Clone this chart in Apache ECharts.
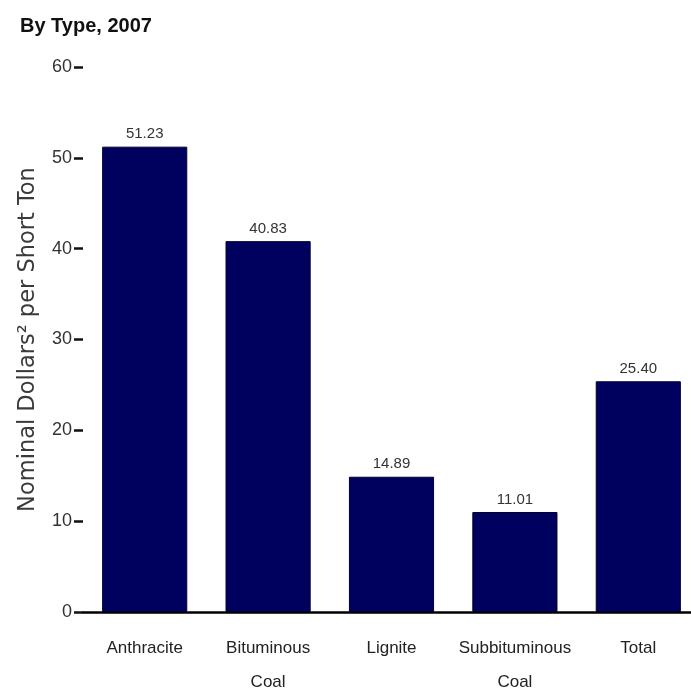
<!DOCTYPE html>
<html>
<head>
<meta charset="utf-8">
<script src="https://cdn.jsdelivr.net/npm/echarts@6/dist/echarts.min.js"></script>
<style>
html,body{margin:0;padding:0;background:#fff;}
#chart{width:691px;height:696px;}
</style>
</head>
<body>
<div id="chart"></div>
<script>
const categories = ["Anthracite", "Bituminous\nCoal", "Lignite", "Subbituminous\nCoal", "Total"];
const prices = [51.23, 40.83, 14.89, 11.01, 25.40];
const yTicks = [0, 10, 20, 30, 40, 50, 60];
const titleText = "By Type, 2007";
const yAxisName = "Nominal Dollars\u00B2 per Short Ton";

const sans = '"Liberation Sans", Arial, sans-serif';
const chart = echarts.init(document.getElementById('chart'));
chart.setOption({
  animation: false,
  title: {
    text: titleText, left: 15, top: 11,
    textStyle: { fontFamily: sans, fontSize: 20, fontWeight: 'bold', color: '#111' }
  },
  grid: { left: 83, width: 617, top: 67, bottom: 84, containLabel: false, outerBoundsMode: 'none' },
  xAxis: {
    type: 'category', data: categories,
    axisLine: { show: true, lineStyle: { color: '#000', width: 2.5 } },
    axisTick: { show: false },
    axisLabel: { interval: 0, fontFamily: sans, fontSize: 17, color: '#222', margin: 19, lineHeight: 34 }
  },
  yAxis: {
    type: 'value', min: yTicks[0], max: yTicks[yTicks.length - 1], interval: 10,
    name: yAxisName, nameLocation: 'middle', nameGap: 43,
    nameTextStyle: { fontFamily: '"DejaVu Sans", sans-serif', fontSize: 22.5, color: '#3a3a3a' },
    axisLine: { show: false },
    axisTick: { show: true, length: 9, inside: false, lineStyle: { color: '#111', width: 2.5 } },
    axisLabel: { fontFamily: sans, fontSize: 18, color: '#333', margin: 11 },
    splitLine: { show: false }
  },
  series: [{
    type: 'bar', data: prices, barWidth: '69%',
    itemStyle: { color: '#00005f', borderColor: '#000030', borderWidth: 1 },
    label: {
      show: true, position: 'top', distance: 5,
      formatter: p => p.value.toFixed(2),
      fontFamily: sans, fontSize: 15, color: '#333'
    }
  }]
});
</script>
</body>
</html>
